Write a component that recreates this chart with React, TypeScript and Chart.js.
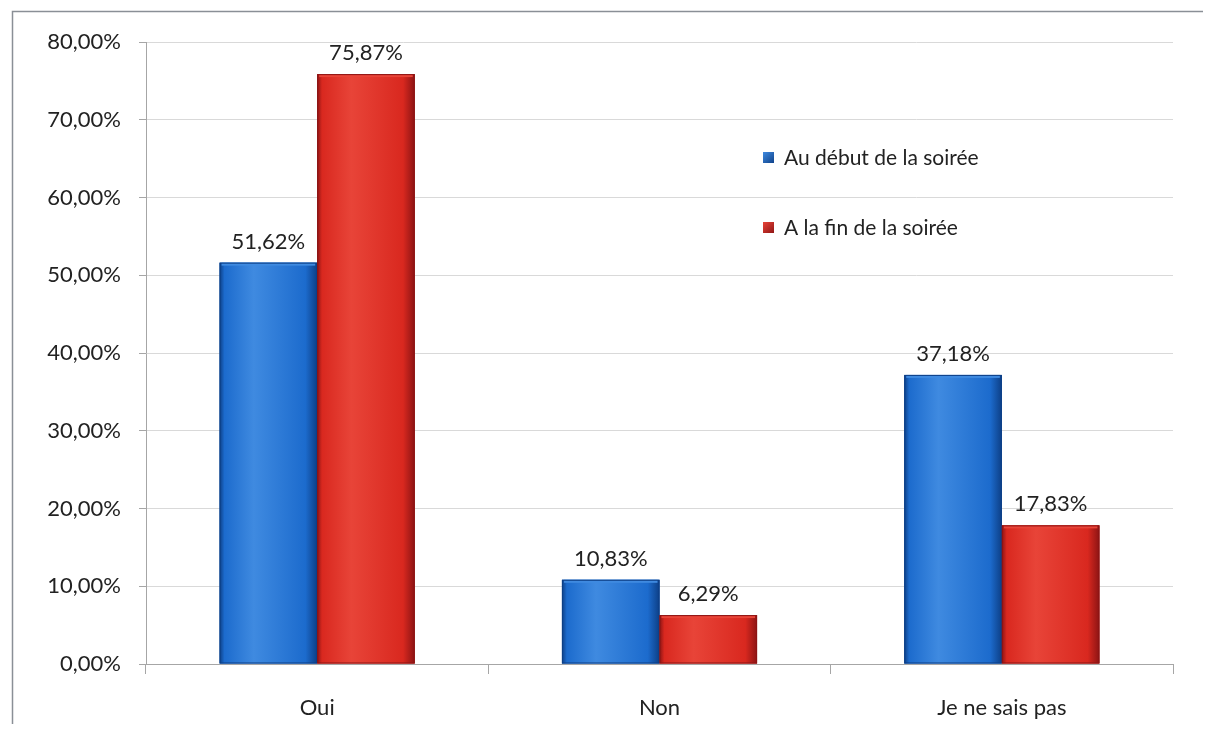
import React, { useEffect, useRef } from "react";
import { Chart, registerables } from "chart.js";

Chart.register(...registerables);

const categories = ["Oui", "Non", "Je ne sais pas"];
const seriesNames = ["Au début de la soirée", "A la fin de la soirée"];
const debutValues = [51.62, 10.83, 37.18];
const finValues = [75.87, 6.29, 17.83];
const yTicks = [0, 10, 20, 30, 40, 50, 60, 70, 80];

const FONT = "Lato, 'Open Sans', sans-serif";
const baseColors = ["#1c6bcd", "#d9281f"];
const darkColors = ["#0d3f86", "#8c1414"];
const lightColors = ["#3f8ae0", "#e84438"];

const fmt = (v: number) => v.toFixed(2).replace(".", ",") + "%";

const decorPlugin = {
  id: "decor",
  beforeDraw(chart: any) {
    const { ctx, width, height } = chart;
    ctx.save();
    ctx.fillStyle = "#ffffff";
    ctx.fillRect(0, 0, width, height);
    ctx.strokeStyle = "#8a8f96";
    ctx.lineWidth = 1.5;
    ctx.beginPath();
    ctx.moveTo(4.5, height);
    ctx.lineTo(4.5, 3.5);
    ctx.lineTo(width, 3.5);
    ctx.stroke();
    ctx.restore();
  },
  afterDatasetsDraw(chart: any) {
    const { ctx } = chart;
    ctx.save();
    chart.data.datasets.forEach((ds: any, di: number) => {
      const meta = chart.getDatasetMeta(di);
      meta.data.forEach((bar: any, i: number) => {
        const w = bar.width;
        const left = bar.x - w / 2;
        const top = bar.y;
        const h = bar.base - bar.y;
        const g = ctx.createLinearGradient(left, 0, left + w, 0);
        g.addColorStop(0, darkColors[di]);
        g.addColorStop(0.05, baseColors[di]);
        g.addColorStop(0.35, lightColors[di]);
        g.addColorStop(0.88, baseColors[di]);
        g.addColorStop(1, darkColors[di]);
        ctx.fillStyle = g;
        ctx.fillRect(left, top, w, h);
        // top bevel
        ctx.fillStyle = lightColors[di];
        ctx.fillRect(left + 2, top, w - 4, 3);
        ctx.strokeStyle = darkColors[di];
        ctx.lineWidth = 1;
        ctx.strokeRect(left + 0.5, top + 0.5, w - 1, h - 1);
        // value label
        ctx.fillStyle = "#222";
        ctx.font = `22px ${FONT}`;
        ctx.textAlign = "center";
        ctx.textBaseline = "bottom";
        ctx.fillText(fmt(ds.data[i]), bar.x, top - 10);
      });
    });
    // legend
    const lx = 755;
    const rows = [150, 220];
    ctx.font = `21px ${FONT}`;
    ctx.textAlign = "left";
    ctx.textBaseline = "middle";
    seriesNames.forEach((name, di) => {
      const y = rows[di];
      const g = ctx.createLinearGradient(lx, y - 6, lx + 11, y + 6);
      g.addColorStop(0, lightColors[di]);
      g.addColorStop(1, darkColors[di]);
      ctx.fillStyle = g;
      ctx.fillRect(lx, y - 6, 11, 11);
      ctx.fillStyle = "#222";
      ctx.fillText(name, lx + 21, y);
    });
    ctx.restore();
  },
};

function App() {
  const ref = useRef<HTMLCanvasElement>(null);
  useEffect(() => {
    if (!ref.current) return;
    const chart = new Chart(ref.current, {
      type: "bar",
      data: {
        labels: categories,
        datasets: [
          { label: seriesNames[0], data: debutValues, backgroundColor: baseColors[0] },
          { label: seriesNames[1], data: finValues, backgroundColor: baseColors[1] },
        ],
      },
      options: {
        animation: false,
        responsive: false,
        maintainAspectRatio: false,
        layout: { padding: { top: 34, right: 30, bottom: 0, left: 0 } },
        datasets: { bar: { barPercentage: 1, categoryPercentage: 0.57 } },
        plugins: { legend: { display: false }, tooltip: { enabled: false } },
        scales: {
          x: {
            afterFit(axis: any) {
              axis.height = 60;
            },
            grid: {
              display: true,
              drawOnChartArea: false,
              offset: true,
              tickLength: 10,
              color: "#a6a6a6",
            },
            border: { color: "#a6a6a6" },
            ticks: { color: "#222", font: { family: FONT, size: 22 }, padding: 21 },
          },
          y: {
            min: 0,
            max: 80,
            afterFit(axis: any) {
              axis.width = 138;
            },
            afterBuildTicks(axis: any) {
              axis.ticks = yTicks.map((v) => ({ value: v }));
            },
            grid: { color: "#d9d9d9", tickLength: 7, tickColor: "#a6a6a6" },
            border: { color: "#a6a6a6" },
            ticks: {
              color: "#222",
              font: { family: FONT, size: 22 },
              padding: 18,
              callback: (v: any) => fmt(Number(v)),
            },
          },
        },
      },
      plugins: [decorPlugin],
    });
    return () => chart.destroy();
  }, []);
  return <canvas ref={ref} width={1195} height={716} style={{ display: "block" }} />;
}

export default App;
